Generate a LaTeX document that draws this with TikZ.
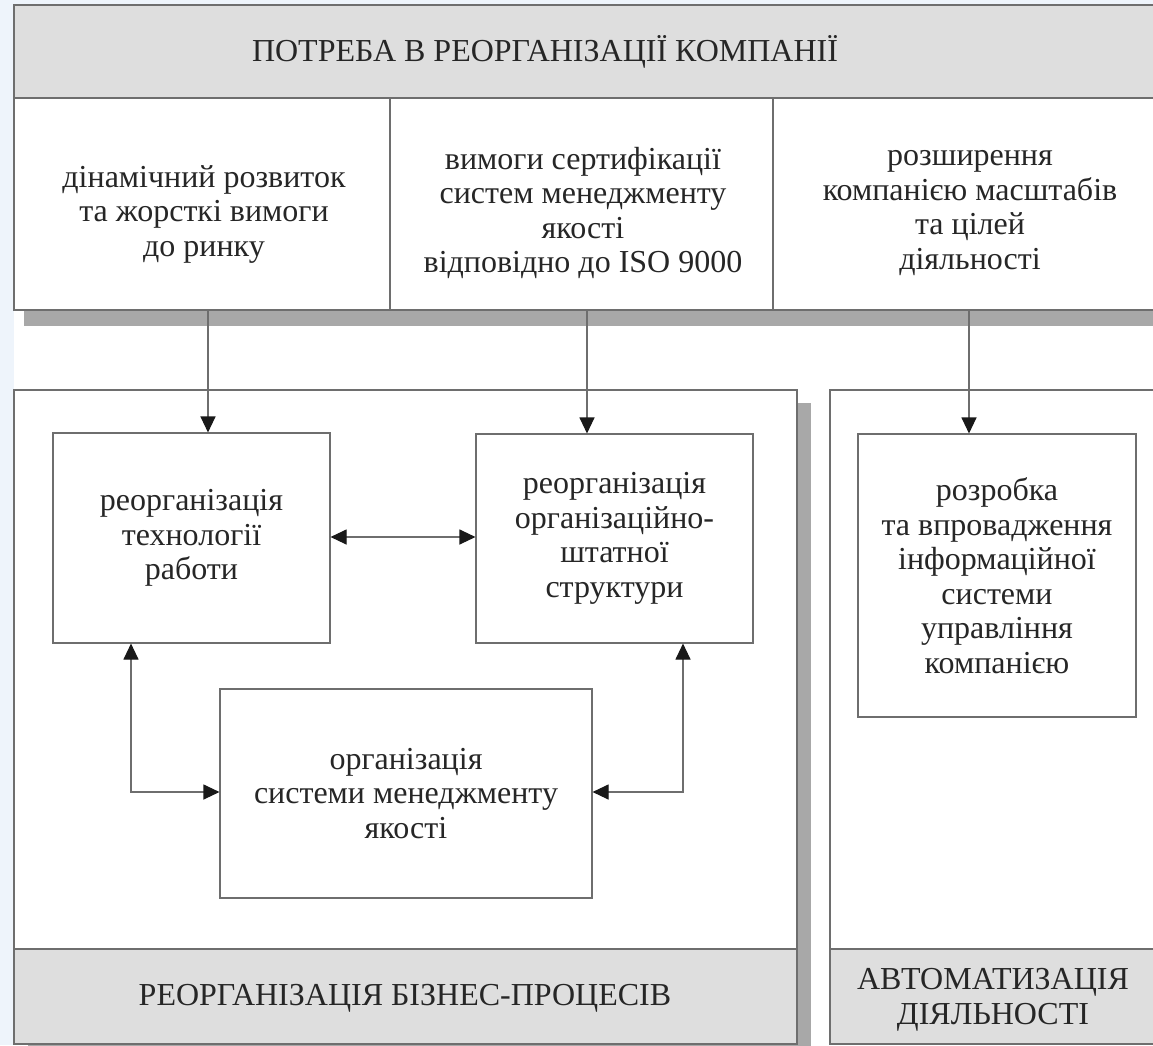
\documentclass[tikz,border=0pt]{standalone}
\usepackage{fontspec}
\setmainfont{Liberation Serif}
\usetikzlibrary{arrows.meta,calc}
\definecolor{bgblue}{RGB}{238,244,251}
\definecolor{hdrgray}{RGB}{222,222,222}
\definecolor{shadowgray}{RGB}{168,168,168}
\definecolor{linegray}{RGB}{110,110,110}
\tikzset{
  txt/.style={align=center,font=\fontsize{32}{34.5}\selectfont,text=black!85,inner sep=0pt},
  innerbox/.style={draw=linegray,line width=1.1pt,fill=white,rectangle,inner sep=0pt,txt},
  frame/.style={draw=linegray,line width=1.1pt},
  conn/.style={draw=linegray,line width=1.1pt},
  tipend/.style={-{Triangle[length=16pt,width=15pt,color=black!90]}},
  tipboth/.style={{Triangle[length=16pt,width=15pt,color=black!90]}-{Triangle[length=16pt,width=15pt,color=black!90]}}
}
\begin{document}
\begin{tikzpicture}[x=1pt,y=-1pt]
\useasboundingbox (0,0) rectangle (1153,1045);
% background
\fill[bgblue] (0,0) rectangle (1153,1045);
\fill[white] (14,5) rectangle (1153,1045);
% top block shadow and block
\fill[shadowgray] (24,40) rectangle (1180,326);
\fill[white] (14,5) rectangle (1167,310);
\fill[hdrgray] (14,5) rectangle (1167,98);
\draw[frame] (14,5) rectangle (1167,310);
\draw[frame] (14,98) -- (1167,98);
\draw[frame] (390,98) -- (390,310);
\draw[frame] (773,98) -- (773,310);
\node[txt] (hdr) at (545,52) {ПОТРЕБА В РЕОРГАНІЗАЦІЇ КОМПАНІЇ};
\node[txt] (col1) at (204,214) {дінамічний розвиток\\та жорсткі вимоги\\до ринку};
\node[txt] (col2) at (583,213) {вимоги сертифікації\\систем менеджменту\\якості\\відповідно до ISO 9000};
\node[txt] (col3) at (970,213) {розширення\\компанією масштабів\\та цілей\\діяльності};
% left container
\fill[shadowgray] (28,403) rectangle (811,1060);
\fill[white] (14,390) rectangle (797,1044);
\fill[hdrgray] (14,949) rectangle (797,1044);
\draw[frame] (14,390) rectangle (797,1044);
\draw[frame] (14,949) -- (797,949);
\node[txt] (bpr) at (405,998) {РЕОРГАНІЗАЦІЯ БІЗНЕС-ПРОЦЕСІВ};
% right container
\fill[white] (830,390) rectangle (1167,1044);
\fill[hdrgray] (830,949) rectangle (1167,1044);
\draw[frame] (830,390) rectangle (1167,1044);
\draw[frame] (830,949) -- (1167,949);
\node[txt] (auto) at (993,1000) {АВТОМАТИЗАЦІЯ\\ДІЯЛЬНОСТІ};
% inner boxes
\node[innerbox,minimum width=277pt,minimum height=210pt] (A) at (191.5,538) {реорганізація\\технології\\работи};
\node[innerbox,minimum width=277pt,minimum height=209pt] (B) at (614.5,538.5) {реорганізація\\організаційно-\\штатної\\структури};
\node[innerbox,minimum width=372pt,minimum height=209pt] (C) at (406,793.5) {організація\\системи менеджменту\\якості};
\node[innerbox,minimum width=278pt,minimum height=283pt] (D) at (997,575.5) {розробка\\та впровадження\\інформаційної\\системи\\управління\\компанією};
% connectors
\coordinate (s1) at (208,310);
\coordinate (s2) at (587,310);
\coordinate (s3) at (969,310);
\draw[conn,tipend] (s1) -- (s1 |- A.north);
\draw[conn,tipend] (s2) -- (s2 |- B.north);
\draw[conn,tipend] (s3) -- (s3 |- D.north);
\coordinate (ab) at (0,537);
\draw[conn,tipboth] (A.east |- ab) -- (B.west |- ab);
\coordinate (cl) at (131,792);
\coordinate (cr) at (683,792);
\draw[conn,tipboth] (cl |- A.south) -- (cl) -- (C.west |- cl);
\draw[conn,tipboth] (cr |- B.south) -- (cr) -- (C.east |- cr);
\end{tikzpicture}
\end{document}
